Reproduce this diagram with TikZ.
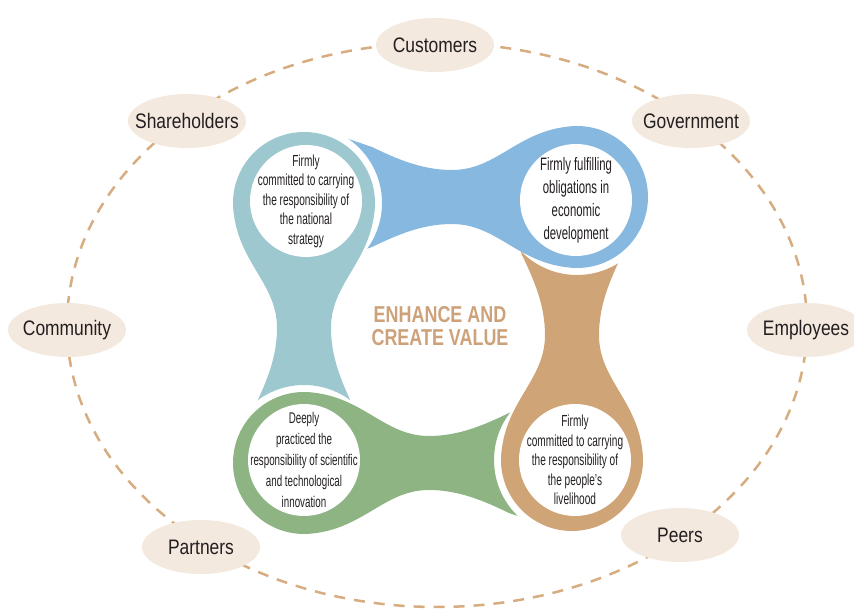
\documentclass[tikz,border=0pt]{standalone}
\usepackage{fontspec}
\setmainfont{Liberation Sans}
\newfontfamily\labelfont[FakeStretch=0.83]{Liberation Sans}
\newfontfamily\innerfont[FakeStretch=0.63]{Liberation Sans}
\newfontfamily\centerfont[FakeStretch=0.78]{Liberation Sans}
\definecolor{tealc}{HTML}{9DC8D0}
\definecolor{bluec}{HTML}{86B8E0}
\definecolor{brownc}{HTML}{CFA578}
\definecolor{greenc}{HTML}{8DB482}
\definecolor{beigec}{HTML}{F4E9DF}
\definecolor{dashc}{HTML}{D6AC80}
\definecolor{centerc}{HTML}{CDA27A}
\definecolor{textc}{HTML}{231F20}
\newcommand\keyhole[4]{%
  \begin{scope}
    \clip (0,0) -- (0,610) -- (854,610) -- (854,0) -- cycle
      (#4) ++(78,0) arc[start angle=0,end angle=360,radius=78];
    \fill[#1,shift={(#2)},rotate=#3]
      (355:71) arc[start angle=-5,end angle=185,radius=71]
      .. controls (-66,-60) and (-27,-80) .. (-27,-125)
      .. controls (-27,-155) and (-38,-180) .. (-50,-205)
      -- (-62,-240) -- (62,-240) -- (50,-205)
      .. controls (38,-180) and (27,-155) .. (27,-125)
      .. controls (27,-80) and (66,-60) .. (355:71) -- cycle;
  \end{scope}}
\tikzset{
  stakeholder/.style={ellipse,fill=beigec,minimum width=118,minimum height=54,
    inner xsep=-11,inner ysep=0,
    text=textc,font=\labelfont\fontsize{21}{24}\selectfont},
  innerdisc/.style={circle,fill=white,minimum size=112,inner sep=0},
  innertext/.style={align=center,text=textc,inner sep=0},
  ringline/.style={draw=dashc,line width=2.5,dash pattern=on 11 off 9}
}
\usetikzlibrary{shapes.geometric}
\begin{document}
\begin{tikzpicture}[x=1pt,y=1pt]
\useasboundingbox (0,0) rectangle (854,610);
% outer dashed ring
\draw[ringline] (437,285) ellipse[x radius=370,y radius=282];
% stakeholders
\node[stakeholder] (customers) at (435,565) {Customers};
\node[stakeholder] (shareholders) at (187,489) {Shareholders};
\node[stakeholder] (government) at (691,489) {Government};
\node[stakeholder] (community) at (67,280) {Community};
\node[stakeholder] (employees) at (806,280) {Employees};
\node[stakeholder] (partners) at (201,63) {Partners};
\node[stakeholder] (peers) at (680,75) {Peers};
% keyhole shapes
\keyhole{tealc}{304,407}{0}{304,147}
\keyhole{greenc}{304,147}{90}{572,150}
\keyhole{brownc}{572,150}{180}{577,413}
\keyhole{bluec}{577,413}{270}{304,407}
% inner discs
\node[innerdisc] (tealdisc) at (306,409) {};
\node[innerdisc] (bluedisc) at (576,410) {};
\node[innerdisc] (browndisc) at (575,150) {};
\node[innerdisc] (greendisc) at (304,150) {};
% texts
\node[innertext,font=\innerfont\fontsize{16}{19.5}\selectfont] (tealtext) at (tealdisc)
  {Firmly\\committed to carrying\\the responsibility of\\the national\\strategy};
\node[innertext,font=\innerfont\fontsize{18}{23}\selectfont] (bluetext) at (bluedisc)
  {Firmly fulfilling\\obligations in\\economic\\development};
\node[innertext,font=\innerfont\fontsize{16}{19.5}\selectfont] (browntext) at (browndisc)
  {Firmly\\committed to carrying\\the responsibility of\\the people’s\\livelihood};
\node[innertext,font=\innerfont\fontsize{15.5}{21}\selectfont] (greentext) at (greendisc)
  {Deeply\\practiced the\\responsibility of scientific\\and technological\\innovation};
\node[align=center,text=centerc,font=\centerfont\bfseries\fontsize{23}{23}\selectfont] (centre) at (440,284)
  {ENHANCE AND\\CREATE VALUE};
\end{tikzpicture}
\end{document}
